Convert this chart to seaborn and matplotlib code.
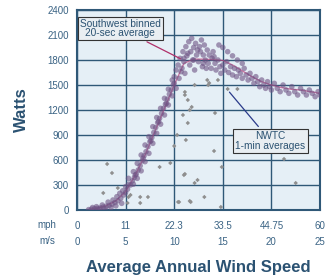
import matplotlib
matplotlib.use("Agg")
import matplotlib.pyplot as plt
import seaborn as sns

# NWTC 1-min averages (gray)
nwtc_speed = [2.7, 3.1, 3.6, 4.2, 5.2, 5.3, 5.5, 6.5, 6.5, 7.3, 8.5, 9.6, 10.0, 10.3,
              10.4, 10.5, 10.9, 11.0, 11.1, 11.1, 11.2, 11.4, 11.4, 11.6, 11.6, 11.7,
              11.8, 12.1, 12.1, 12.4, 13.1, 13.4, 13.5, 13.6, 14.1, 14.2, 14.5, 14.8,
              14.9, 15.5, 16.5, 21.3, 22.5, 11.1]
nwtc_watts = [204, 552, 444, 264, 84, 156, 180, 156, 84, 156, 516, 564, 768, 900,
              96, 96, 1140, 420, 432, 1416, 840, 1044, 1320, 108, 1200, 96,
              1236, 324, 1500, 360, 156, 1560, 1500, 1524, 708, 1164, 1560, 36,
              516, 1452, 1452, 612, 324, 1380]

# Southwest 20-sec data (purple cloud)
sw_speed = [1.2, 1.5, 1.8, 2.1, 2.4, 2.7, 3.0, 3.3, 3.6, 3.9, 4.2, 4.5, 4.8, 5.0, 5.2,
            2.0, 2.6, 3.2, 3.7, 4.1, 4.4, 4.7, 5.0, 5.3,
            1.6, 2.3, 2.9, 3.5, 4.0, 4.6,
            5.5, 5.7, 5.9, 6.1, 6.3, 6.5, 6.7, 6.9, 7.1, 7.3, 7.5, 7.7, 7.9, 8.1, 8.3,
            8.5, 8.7, 8.9, 9.1, 9.3, 9.5, 9.7, 9.9,
            5.3, 5.8, 6.2, 6.6, 7.0, 7.4, 7.8, 8.2, 8.6, 9.0, 9.4, 9.8,
            5.8, 6.2, 6.6, 7.0, 7.4, 7.8, 8.2, 8.6, 9.0, 9.4, 9.8, 10.2,
            6.0, 6.8, 7.6, 8.4, 9.2, 10.0,
            10.0, 10.2, 10.4, 10.5, 10.6, 10.8, 10.9, 11.0, 11.1, 11.2, 11.3, 11.5,
            11.6, 11.7, 11.8, 11.9, 12.0, 12.1, 12.2, 12.3, 12.5, 12.6, 12.7, 12.8,
            12.9, 13.0, 13.1, 13.2, 13.4, 13.5, 13.6, 13.8, 13.9, 14.0, 14.2, 14.3,
            14.5, 14.7, 14.8, 15.0,
            10.7, 11.4, 12.4, 13.3, 11.0, 12.0, 13.0, 14.1,
            15.2, 15.4, 15.6, 15.8, 16.0, 16.2, 16.4, 16.6, 16.8, 17.0, 17.2, 17.4,
            17.6, 17.8, 18.0, 18.2, 18.4, 18.6, 18.8, 19.0, 19.2, 19.4, 19.6, 19.8,
            20.0, 20.3, 20.6, 20.9, 21.2, 21.5, 21.8, 22.1, 22.4, 22.7, 23.0, 23.3,
            23.6, 23.9, 24.2, 24.5, 24.8, 25.0,
            15.5, 16.0, 16.5, 17.0, 15.0, 14.6]
sw_watts = [5, 10, 15, 20, 25, 35, 45, 55, 70, 90, 110, 140, 180, 210, 250,
            40, 60, 95, 120, 160, 200, 230, 280, 310,
            30, 10, 15, 30, 50, 80,
            300, 350, 390, 430, 480, 530, 590, 650, 700, 760, 820, 870, 930, 990, 1050,
            1100, 1160, 1220, 1270, 1330, 1390, 1440, 1500,
            380, 460, 560, 660, 780, 880, 1000, 1110, 1220, 1340, 1450, 1560,
            310, 380, 470, 580, 680, 800, 920, 1030, 1140, 1260, 1370, 1460,
            420, 620, 830, 1060, 1280, 1520,
            1600, 1680, 1740, 1580, 1820, 1700, 1900, 1780, 1640, 1960, 1850, 2020,
            1740, 1900, 2060, 1800, 1950, 1680, 2000, 1860, 1780, 1960, 1900, 2040,
            1720, 1860, 1980, 1800, 1920, 1760, 1860, 1700, 1820, 1900, 1760, 1680,
            1800, 1720, 1640, 1740,
            1660, 1880, 1920, 1700, 1820, 1800, 1760, 1840,
            1680, 1780, 1650, 1720, 1620, 1700, 1600, 1680, 1640, 1580, 1700, 1620,
            1560, 1640, 1580, 1520, 1600, 1540, 1480, 1560, 1500, 1460, 1540, 1480,
            1440, 1520, 1460, 1420, 1500, 1440, 1400, 1480, 1420, 1380, 1460, 1420,
            1380, 1440, 1400, 1360, 1420, 1380,
            1900, 1850, 1800, 1760, 1950, 1980]

# binned average (pink line)
bin_speed = [1, 2, 3, 4, 5, 6, 7, 8, 9, 10, 11, 12, 13, 14, 15, 16, 17, 18, 19, 20,
             21, 22, 23, 24, 25]
bin_watts = [5, 20, 50, 110, 220, 420, 660, 940, 1220, 1500, 1760, 1810, 1810, 1805,
             1795, 1740, 1670, 1600, 1540, 1500, 1470, 1450, 1440, 1420, 1400]

ms_ticks = [0, 5, 10, 15, 20, 25]
mph_labels = ["0", "11", "22.3", "33.5", "44.75", "60"]
watt_ticks = [0, 300, 600, 900, 1200, 1500, 1800, 2100, 2400]

frame = "#2f5877"
txt = "#3a6384"
dark = "#2b5272"

sns.set_style("white", {"axes.facecolor": "#e5eff6"})
plt.rcParams["font.family"] = ["Liberation Sans", "DejaVu Sans"]

fig = plt.figure(figsize=(3.31, 2.76), dpi=100)
ax = fig.add_axes([77 / 331, 1 - 210 / 276, 243 / 331, 200 / 276])

sns.lineplot(x=bin_speed, y=bin_watts, color="#c2457f", lw=1.0, alpha=0.7,
             ax=ax, zorder=2)
sns.scatterplot(x=sw_speed, y=sw_watts, marker="o", s=16, color="#6e5384",
                alpha=0.6, edgecolor="none", ax=ax, zorder=3)
sns.scatterplot(x=nwtc_speed, y=nwtc_watts, marker="D", s=5, color="#8f8f8f",
                edgecolor="none", ax=ax, zorder=3)

ax.set_xlim(0, 25)
ax.set_ylim(0, 2400)
ax.set_xticks(ms_ticks)
ax.set_xticklabels([f"{m}\n{s}" for m, s in zip(mph_labels, ms_ticks)],
                   linespacing=1.75)
ax.set_yticks(watt_ticks)
ax.tick_params(axis="both", length=0, labelsize=7, labelcolor=txt)
ax.tick_params(axis="x", pad=8)
ax.tick_params(axis="y", pad=6)
ax.grid(True, color=frame, lw=1.0)
ax.set_axisbelow(True)
for sp in ax.spines.values():
    sp.set_color(frame)
    sp.set_linewidth(1.5)

ax.set_xlabel("Average Annual Wind Speed", fontsize=12, fontweight="bold",
              color=dark, labelpad=9)
ax.set_ylabel("Watts", fontsize=12, fontweight="bold", color=dark, labelpad=13)
fig.text(47 / 331, 1 - 233 / 276, "mph\nm/s", fontsize=7, color=txt,
         ha="center", va="center", linespacing=1.75)

box = dict(boxstyle="square,pad=0.2", fc="#e9eef2", ec="#333333", lw=0.8)
ax.annotate("Southwest binned\n20-sec average", xy=(10.9, 1800), xytext=(4.45, 2180),
            fontsize=7.3, color=dark, ha="center", va="center", linespacing=0.95,
            bbox=box, zorder=5,
            arrowprops=dict(arrowstyle="-", color="#b0306a", lw=0.9))
ax.annotate("NWTC\n1-min averages", xy=(15.5, 1440), xytext=(19.9, 830),
            fontsize=7.3, color=dark, ha="center", va="center", linespacing=0.95,
            bbox=box, zorder=5,
            arrowprops=dict(arrowstyle="-", color="#2a3a8a", lw=0.9))

fig.savefig("out.png", dpi=100)
